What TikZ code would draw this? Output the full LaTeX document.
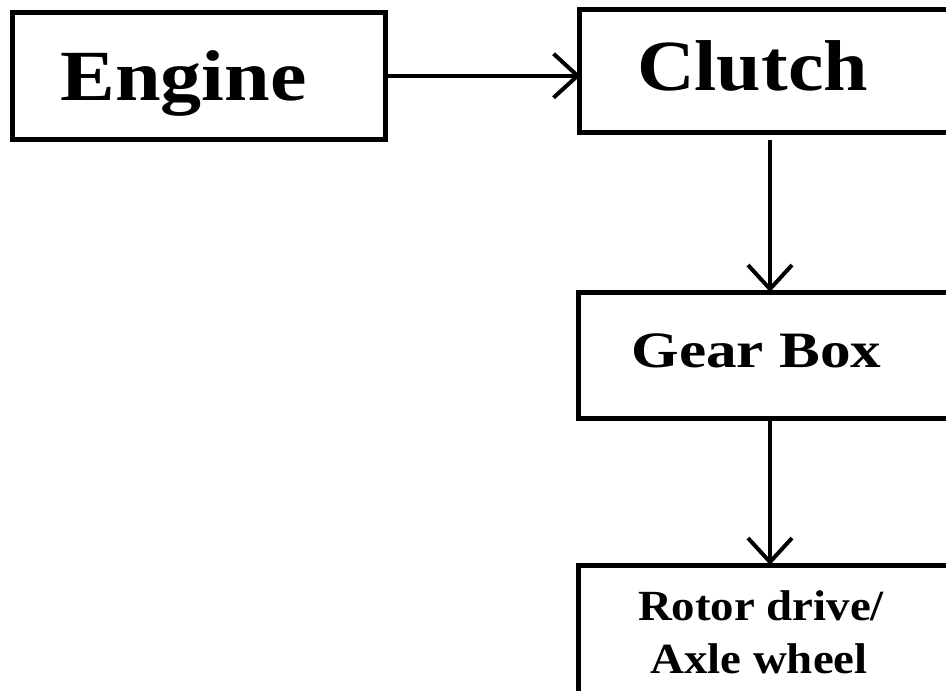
\documentclass[tikz,border=0pt]{standalone}
\usepackage{fontspec}
\setmainfont{Liberation Serif}
\usetikzlibrary{arrows.meta}

\begin{document}
\begin{tikzpicture}[x=1pt, y=-1pt,
	block/.style={rectangle, draw, line width=5pt, inner sep=0pt},
	lbl/.style={inner sep=0pt, anchor=base, font=\bfseries},
	flow/.style={line width=4pt, -{Straight Barb[length=24pt, width=44pt, line width=4pt]}}]

	\useasboundingbox (0, 0) rectangle (946, 691);
	\clip (0, 0) rectangle (946, 691);

	\node (engine) [block, minimum width=372.5pt, minimum height=126.5pt] at (198.75, 75.75) {};
	\node (clutch) [block, minimum width=382pt, minimum height=123pt] at (770, 71) {};
	\node (gearbox) [block, minimum width=383pt, minimum height=126pt] at (770, 355.5) {};
	\node (rotor) [block, minimum width=383pt, minimum height=134.5pt] at (770, 632.75) {};

	\node (t0) [lbl, font=\fontsize{72}{80}\bfseries] at (183.5, 100) {\scalebox{1.14}[1]{Engine}};
	\node (t1) [lbl, font=\fontsize{72}{80}\bfseries] at (752.5, 90) {\scalebox{1.11}[1]{Clutch}};
	\node (t2) [lbl, font=\fontsize{51}{60}\bfseries] at (756.5, 367) {\scalebox{1.2}[1]{Gear Box}};
	\node (t3) [lbl, font=\fontsize{43}{53}\bfseries] at (761, 620) {\scalebox{1.09}[1]{Rotor drive/}};
	\node (t4) [lbl, font=\fontsize{43}{53}\bfseries] at (759, 673) {\scalebox{1.09}[1]{Axle wheel}};

	\path
	(engine.east) edge[flow, shorten >=-4pt] (engine.east -| clutch.west)
	(clutch.south) edge[flow, shorten <=5pt, shorten >=-2pt] (gearbox.north)
	(gearbox.south) edge[flow, shorten >=-2pt] (rotor.north);

\end{tikzpicture}
\end{document}
